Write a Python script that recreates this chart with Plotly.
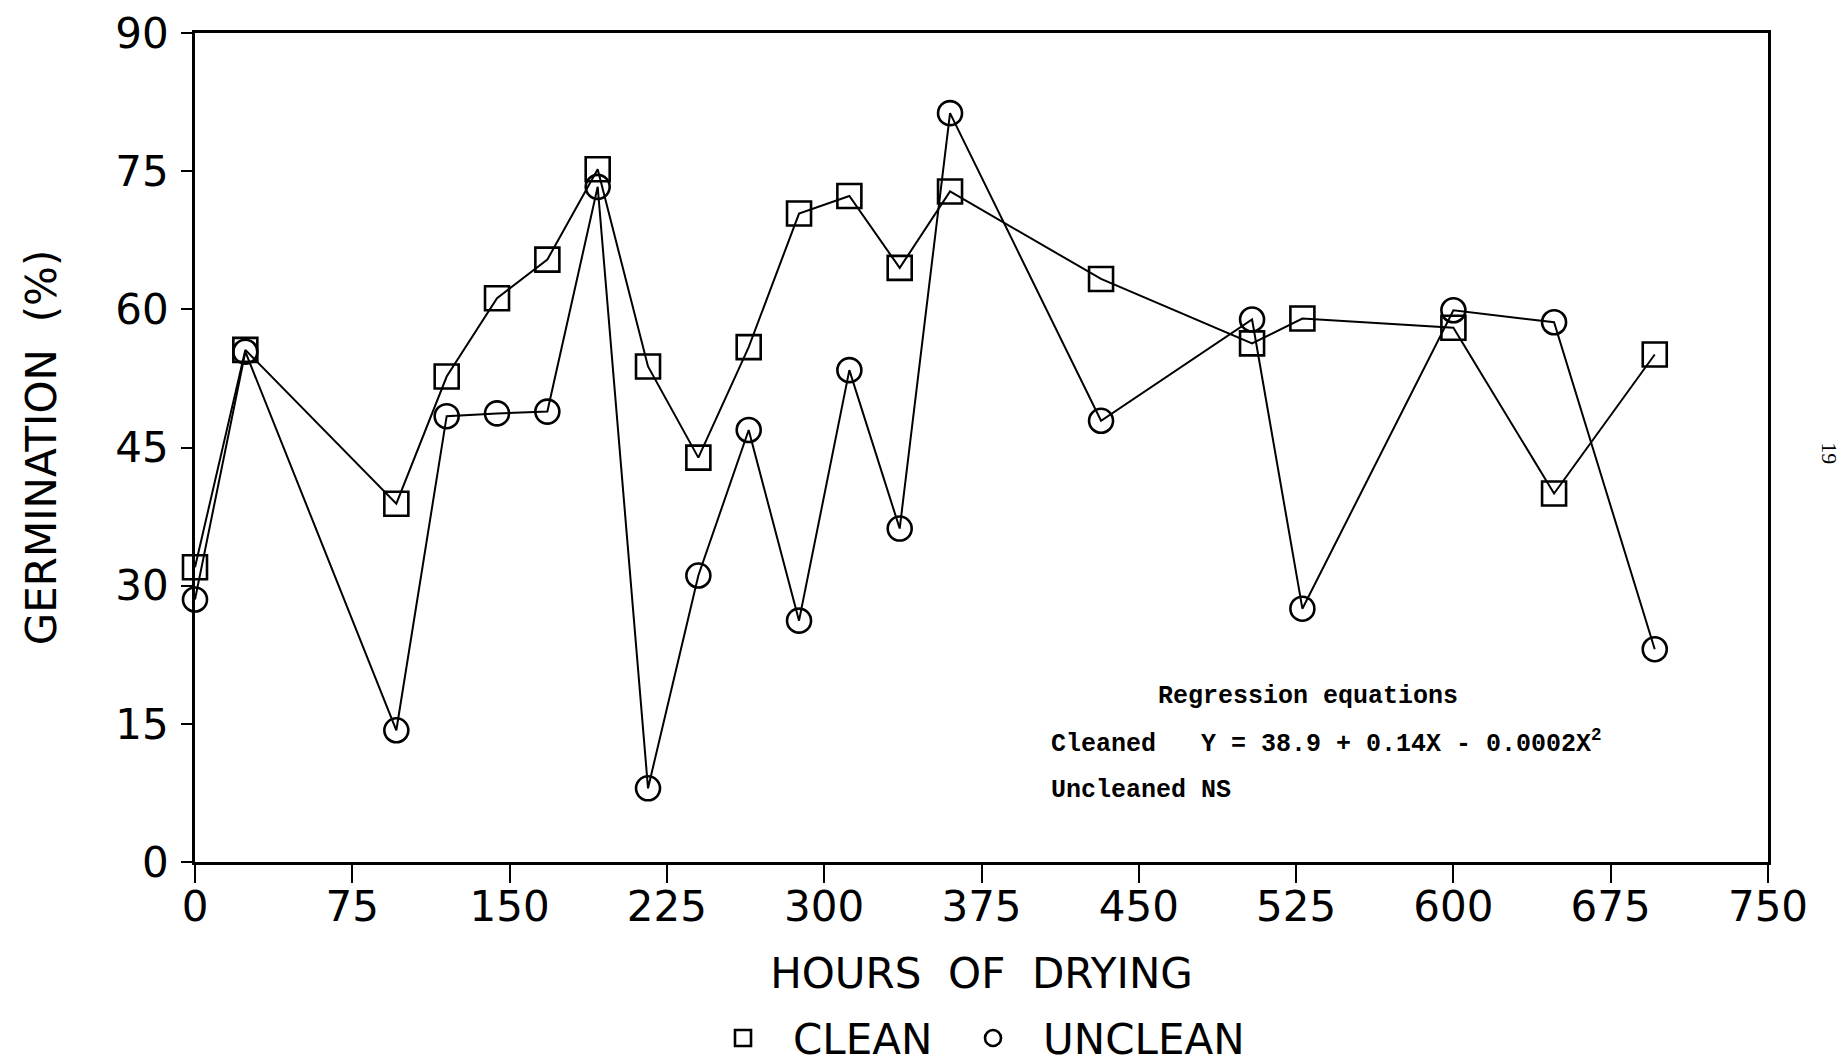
import plotly.graph_objects as go

# ---- data ----
hours = [0, 24, 96, 120, 144, 168, 192, 216, 240, 264, 288, 312, 336, 360,
         432, 504, 528, 600, 648, 696]
clean = [32.0, 55.6, 38.9, 52.7, 61.2, 65.4, 75.2, 53.8, 43.9, 55.9, 70.4,
         72.3, 64.5, 72.8, 63.3, 56.3, 59.0, 58.0, 40.0, 55.1]
unclean = [28.5, 55.4, 14.3, 48.4, 48.7, 48.9, 73.3, 8.0, 31.1, 46.9, 26.2,
           53.4, 36.2, 81.3, 47.9, 58.9, 27.5, 59.9, 58.6, 23.1]
x_ticks = [0, 75, 150, 225, 300, 375, 450, 525, 600, 675, 750]
y_ticks = [0, 15, 30, 45, 60, 75, 90]
series_names = ["CLEAN", "UNCLEAN"]
x_title = "HOURS\u00a0 OF\u00a0 DRYING"
y_title = "GERMINATION\u00a0 (%)"
note_title = "Regression equations"
note_clean = "Cleaned\u00a0\u00a0 Y = 38.9 + 0.14X - 0.0002X<sup>2</sup>"
note_unclean = "Uncleaned NS"
page_number = "19"

INK = "black"
SANS = "DejaVu Sans"
MONO = "Liberation Mono"

fig = go.Figure()

# connecting lines (no legend)
for ys in (clean, unclean):
    fig.add_trace(go.Scatter(
        x=hours, y=ys, mode="lines", showlegend=False, hoverinfo="skip",
        line=dict(color=INK, width=2), cliponaxis=False))

# markers (legend entries)
for ys, name, sym, lw in ((clean, series_names[0], "square-open", 145),
                          (unclean, series_names[1], "circle-open", 215)):
    fig.add_trace(go.Scatter(
        x=hours, y=ys, mode="markers", name=name, cliponaxis=False,
        legendwidth=lw,
        marker=dict(symbol=sym, size=24, color=INK,
                    line=dict(color=INK, width=2.6))))

axis_common = dict(
    showline=True, linecolor=INK, linewidth=2.6, mirror=True,
    showgrid=False, zeroline=False, ticks="outside", tickcolor=INK,
    tickwidth=2.4, tickfont=dict(family=SANS, size=42, color=INK),
)

fig.update_xaxes(
    range=[0, 750], tickvals=x_ticks, ticktext=[str(v) for v in x_ticks],
    ticklen=18, ticklabelstandoff=-12,
    title=dict(text=x_title, font=dict(family=SANS, size=42, color=INK),
               standoff=29),
    **axis_common)
fig.update_yaxes(
    range=[0, 90], tickvals=y_ticks, ticktext=[str(v) for v in y_ticks],
    ticklen=11, ticklabelstandoff=4,
    title=dict(text=y_title, font=dict(family=SANS, size=42, color=INK),
               standoff=46),
    **axis_common)

note_font = dict(family=MONO, size=25, color=INK, weight="bold")
fig.add_annotation(x=458, y=18.0, xref="x", yref="y", text=note_title,
                   showarrow=False, xanchor="left", yanchor="middle",
                   font=note_font)
fig.add_annotation(x=407, y=13.0, xref="x", yref="y", text=note_clean,
                   showarrow=False, xanchor="left", yanchor="middle",
                   font=note_font)
fig.add_annotation(x=407, y=7.8, xref="x", yref="y", text=note_unclean,
                   showarrow=False, xanchor="left", yanchor="middle",
                   font=note_font)
# rotated page number at the right edge
fig.add_annotation(x=1.0394, y=0.493, xref="paper", yref="paper",
                   text=page_number, showarrow=False, textangle=90,
                   xanchor="center", yanchor="middle",
                   font=dict(family="Liberation Serif", size=22, color=INK))

fig.update_layout(
    width=1844, height=1064,
    margin=dict(l=195, r=76, t=33, b=202, autoexpand=False),
    paper_bgcolor="white", plot_bgcolor="white",
    font=dict(family=SANS, color=INK),
    legend=dict(orientation="h", x=0.3166, xanchor="left", y=-0.2125,
                yanchor="middle", itemwidth=90, traceorder="normal",
                font=dict(family=SANS, size=42, color=INK),
                bgcolor="rgba(0,0,0,0)"),
)

fig.write_html("out.html")
